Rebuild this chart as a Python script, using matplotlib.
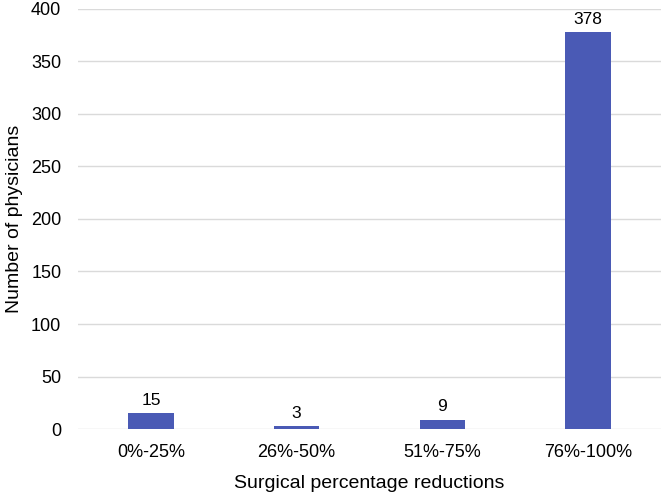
import matplotlib.pyplot as plt

plt.rcParams['font.family'] = ['Liberation Sans', 'DejaVu Sans']

categories = ['0%-25%', '26%-50%', '51%-75%', '76%-100%']
counts = [15, 3, 9, 378]

fig = plt.figure(figsize=(6.64, 4.96), dpi=100)
ax = fig.add_axes([0.1175, 0.135, 0.878, 0.847])

bars = ax.bar(range(len(categories)), counts, width=0.313, color='#4a5ab5', zorder=3)
for b, v in zip(bars, counts):
    ax.text(b.get_x() + b.get_width() / 2, v + 5, str(v), ha='center', va='bottom', fontsize=12.5)

ax.set_xlim(-0.5, len(categories) - 0.5)
ax.set_ylim(0, 400)
ax.set_yticks(range(0, 401, 50))
ax.set_xticks(range(len(categories)))
ax.set_xticklabels(categories)
ax.yaxis.grid(True, color='#dadada', linewidth=1, zorder=0)
for s in ax.spines.values():
    s.set_visible(False)
ax.tick_params(length=0, labelsize=13, pad=12)
ax.tick_params(axis='x', pad=11)
ax.set_xlabel('Surgical percentage reductions', fontsize=14, labelpad=10)
ax.set_ylabel('Number of physicians', fontsize=14, labelpad=6)

fig.savefig('out.png', dpi=100)
